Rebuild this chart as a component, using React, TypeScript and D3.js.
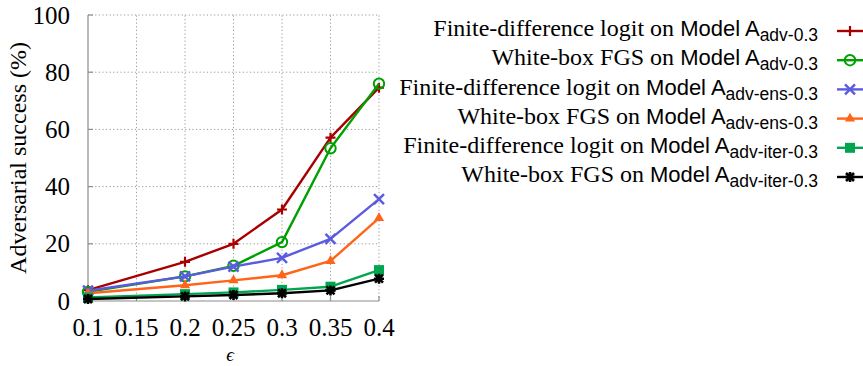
import React, { useEffect, useRef } from 'react';
import * as d3 from 'd3';

const epsilons = [0.1, 0.2, 0.25, 0.3, 0.35, 0.4];
const xTicks = [0.1, 0.15, 0.2, 0.25, 0.3, 0.35, 0.4];
const yTicks = [0, 20, 40, 60, 80, 100];

const fdAdv = [3.8, 13.7, 20, 32, 57.1, 74.6];
const fgsAdv = [3.2, 8.6, 12.3, 20.6, 53.4, 76];
const fdEns = [3.6, 8.6, 12, 15.1, 21.7, 35.6];
const fgsEns = [2.7, 5.5, 7.2, 9, 14, 29];
const fdIter = [1.2, 2.4, 3, 3.9, 5, 10.8];
const fgsIter = [0.7, 1.6, 2.1, 2.7, 3.7, 7.8];

const series = [
  { attack: 'Finite-difference logit on ', sub: 'adv-0.3', values: fdAdv, color: '#a80000', marker: 'plus' },
  { attack: 'White-box FGS on ', sub: 'adv-0.3', values: fgsAdv, color: '#00a000', marker: 'circle' },
  { attack: 'Finite-difference logit on ', sub: 'adv-ens-0.3', values: fdEns, color: '#5b5be0', marker: 'cross' },
  { attack: 'White-box FGS on ', sub: 'adv-ens-0.3', values: fgsEns, color: '#ff6418', marker: 'triangle' },
  { attack: 'Finite-difference logit on ', sub: 'adv-iter-0.3', values: fdIter, color: '#00a550', marker: 'square' },
  { attack: 'White-box FGS on ', sub: 'adv-iter-0.3', values: fgsIter, color: '#000000', marker: 'star' },
];

const serif = '"Liberation Serif", "DejaVu Serif", serif';
const sans = '"Liberation Sans", Arial, sans-serif';

// draws one marker centred on (cx, cy)
function drawMarker(g, kind, cx, cy, color) {
  const m = g.append('g').attr('transform', `translate(${cx},${cy})`);
  if (kind === 'plus') {
    m.append('path').attr('d', 'M-5,0H5M0,-5V5').attr('stroke', color).attr('stroke-width', 2.2);
  } else if (kind === 'circle') {
    m.append('circle').attr('r', 5.2).attr('fill', 'none').attr('stroke', color).attr('stroke-width', 2);
  } else if (kind === 'cross') {
    m.append('path').attr('d', 'M-5,-5L5,5M-5,5L5,-5').attr('stroke', color).attr('stroke-width', 2.4);
  } else if (kind === 'triangle') {
    m.append('path').attr('d', d3.symbol(d3.symbolTriangle, 45)()).attr('fill', color);
  } else if (kind === 'square') {
    m.append('rect').attr('x', -5).attr('y', -5).attr('width', 10).attr('height', 10).attr('fill', color);
  } else {
    m.append('path').attr('d', 'M-5,0H5M0,-5V5M-4,-4L4,4M-4,4L4,-4').attr('stroke', color).attr('stroke-width', 2.6);
  }
}

const App = () => {
  const chartRef = useRef(null);
  const width = 863;
  const height = 366;

  useEffect(() => {
    document.body.style.margin = '0';
    const svg = d3.select(chartRef.current);
    svg.selectAll('*').remove();

    const x = d3.scaleLinear().domain([0.1, 0.4]).range([88, 379]);
    const y = d3.scaleLinear().domain([0, 100]).range([301, 15]);

    // grid
    const grid = svg.append('g').attr('stroke', '#9a9a9a').attr('stroke-width', 1).attr('stroke-dasharray', '1.2,2.4');
    xTicks.slice(1).forEach(t => {
      grid.append('line').attr('x1', x(t)).attr('x2', x(t)).attr('y1', y(0)).attr('y2', y(100));
    });
    yTicks.slice(1).forEach(t => {
      grid.append('line').attr('x1', x(0.1)).attr('x2', x(0.4)).attr('y1', y(t)).attr('y2', y(t));
    });

    // axis lines and inward ticks
    const ax = svg.append('g').attr('stroke', '#8c8c8c').attr('stroke-width', 1.2);
    ax.append('line').attr('x1', x(0.1)).attr('x2', x(0.1)).attr('y1', y(0)).attr('y2', y(100));
    ax.append('line').attr('x1', x(0.1)).attr('x2', x(0.4)).attr('y1', y(0)).attr('y2', y(0));
    yTicks.forEach(t => ax.append('line').attr('x1', x(0.1)).attr('x2', x(0.1) + 5).attr('y1', y(t)).attr('y2', y(t)));
    xTicks.forEach(t => ax.append('line').attr('x1', x(t)).attr('x2', x(t)).attr('y1', y(0)).attr('y2', y(0) - 5));

    // tick labels
    svg.append('g').selectAll('text').data(yTicks).join('text')
      .attr('x', 70).attr('y', d => y(d)).attr('dy', '0.34em')
      .attr('text-anchor', 'end').attr('font-family', serif).attr('font-size', 25)
      .text(d => d);
    svg.append('g').selectAll('text').data(xTicks).join('text')
      .attr('x', d => x(d)).attr('y', 336)
      .attr('text-anchor', 'middle').attr('font-family', serif).attr('font-size', 25)
      .text(d => d);

    svg.append('text')
      .attr('x', 230).attr('y', 361).attr('text-anchor', 'middle')
      .attr('font-family', serif).attr('font-style', 'italic').attr('font-size', 19)
      .text('ϵ');
    svg.append('text')
      .attr('transform', 'translate(26,158) rotate(-90)').attr('text-anchor', 'middle')
      .attr('font-family', serif).attr('font-size', 24)
      .text('Adversarial success (%)');

    // lines + markers
    const line = d3.line().x((d, i) => x(epsilons[i])).y(d => y(d));
    series.forEach(s => {
      svg.append('path').attr('d', line(s.values)).attr('fill', 'none')
        .attr('stroke', s.color).attr('stroke-width', 2.4).attr('stroke-linejoin', 'round');
      s.values.forEach((v, i) => drawMarker(svg, s.marker, x(epsilons[i]), y(v), s.color));
    });

    // legend
    series.forEach((s, i) => {
      const ly = 31 + i * 29.2;
      const t = svg.append('text').attr('x', 818).attr('y', ly).attr('dy', '0.32em').attr('text-anchor', 'end');
      t.append('tspan').attr('font-family', serif).attr('font-size', 24).text(s.attack);
      t.append('tspan').attr('font-family', sans).attr('font-size', 22).text('Model A');
      t.append('tspan').attr('font-family', sans).attr('font-size', 17.5).attr('dy', 5).text(s.sub);
      svg.append('line').attr('x1', 837).attr('x2', 863).attr('y1', ly).attr('y2', ly)
        .attr('stroke', s.color).attr('stroke-width', 2.4);
      drawMarker(svg, s.marker, 850, ly, s.color);
    });
  }, []);

  return (
    <svg ref={chartRef} width={width} height={height}
      style={{ position: 'absolute', left: 0, top: 0, background: '#fff' }} />
  );
};

export default App;
